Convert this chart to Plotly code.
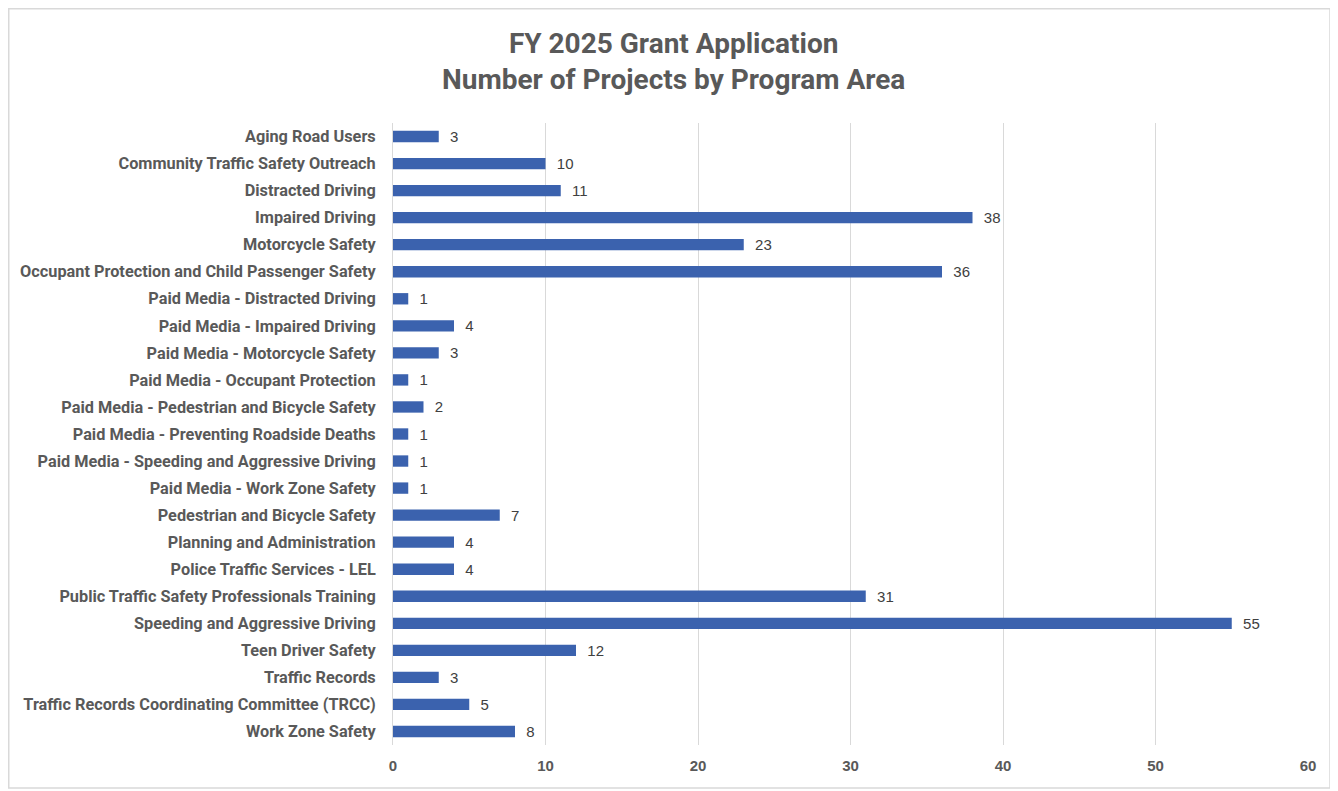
import plotly.graph_objects as go

categories = [
    "Aging Road Users",
    "Community Traffic Safety Outreach",
    "Distracted Driving",
    "Impaired Driving",
    "Motorcycle Safety",
    "Occupant Protection and Child Passenger Safety",
    "Paid Media - Distracted Driving",
    "Paid Media - Impaired Driving",
    "Paid Media - Motorcycle Safety",
    "Paid Media - Occupant Protection",
    "Paid Media - Pedestrian and Bicycle Safety",
    "Paid Media - Preventing Roadside Deaths",
    "Paid Media - Speeding and Aggressive Driving",
    "Paid Media - Work Zone Safety",
    "Pedestrian and Bicycle Safety",
    "Planning and Administration",
    "Police Traffic Services - LEL",
    "Public Traffic Safety Professionals Training",
    "Speeding and Aggressive Driving",
    "Teen Driver Safety",
    "Traffic Records",
    "Traffic Records Coordinating Committee (TRCC)",
    "Work Zone Safety",
]
projects = [3, 10, 11, 38, 23, 36, 1, 4, 3, 1, 2, 1, 1, 1, 7, 4, 4, 31, 55, 12, 3, 5, 8]
x_ticks = [0, 10, 20, 30, 40, 50, 60]

# page body has an 8px margin; figure coordinates = screen - 8
W, H = 1330, 783
L, R, T, B = 385, 30, 115, 46
pw, ph = W - L - R, H - T - B

def px_x(p):
    return (p - L) / pw

def px_y(p):
    return (H - B - p) / ph

fig = go.Figure(go.Bar(
    x=projects,
    y=categories,
    orientation="h",
    marker=dict(color="#3B62AE", line=dict(width=0)),
    text=[f"  {v}" for v in projects],
    textposition="outside",
    constraintext="none",
    cliponaxis=False,
    textfont=dict(family="Liberation Sans, Arial, sans-serif", size=15, color="#404040"),
    width=0.42,
    hoverinfo="x+y",
))

fig.update_layout(
    width=W, height=H,
    margin=dict(l=L, r=R, t=T, b=B, autoexpand=False),
    paper_bgcolor="white",
    plot_bgcolor="white",
    showlegend=False,
    annotations=[dict(
        text="FY 2025 Grant Application<br>Number of Projects by Program Area",
        xref="paper", yref="paper",
        x=px_x(665), xanchor="center",
        y=px_y(53), yanchor="middle",
        showarrow=False,
        font=dict(family="Roboto, sans-serif", size=28, color="#595959", weight="bold"),
    )],
    xaxis=dict(
        range=[0, 60],
        tickvals=x_ticks,
        showgrid=True, gridcolor="#D9D9D9", gridwidth=1,
        zeroline=False, showline=False,
        ticks="",
        tickfont=dict(family="Liberation Sans, Arial, sans-serif", size=15, color="#595959", weight="bold"),
        ticklabelstandoff=10,
    ),
    yaxis=dict(
        autorange="reversed",
        showgrid=False, zeroline=False,
        showline=True, linecolor="#D9D9D9", linewidth=1,
        ticks="",
        tickfont=dict(family="Roboto, sans-serif", size=16.3, color="#595959", weight="bold"),
        ticklabelstandoff=13,
    ),
    shapes=[dict(
        type="rect", xref="paper", yref="paper",
        x0=px_x(0.75), x1=px_x(1322), y0=px_y(780), y1=px_y(0.75),
        line=dict(color="#D9D9D9", width=1.5), fillcolor="rgba(0,0,0,0)",
        layer="below",
    )],
)

fig.write_html("out.html")
